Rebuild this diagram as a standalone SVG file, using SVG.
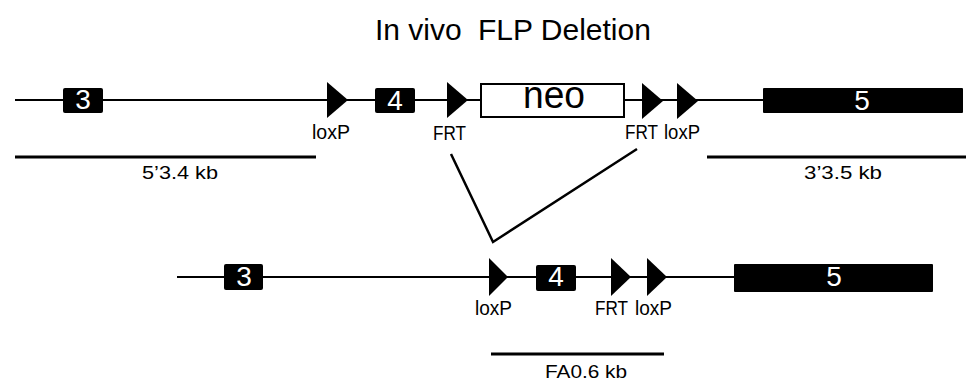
<svg xmlns="http://www.w3.org/2000/svg" width="966" height="385" viewBox="0 0 966 385">
<style>
text{font-family:"Liberation Sans",Arial,sans-serif;fill:#000}
.bb{stroke:#000;stroke-width:2;fill:none}
.bar{stroke:#000;stroke-width:3;fill:none}
.ex{fill:#000}
.exn{fill:#fff;font-size:28px;text-anchor:middle}
.tri{fill:#000}
.lbl{font-size:19.5px}
.sc{font-size:19px}
</style>
<rect width="966" height="385" fill="#fff"/>
<text x="375" y="40" font-size="30">In vivo</text>
<text x="478" y="40" font-size="30">FLP Deletion</text>

<g id="backbone-top"><line class="bb" x1="15" y1="100" x2="763" y2="100"/></g>
<g id="backbone-bottom"><line class="bb" x1="177" y1="277" x2="734" y2="277"/></g>

<g id="top-exon3"><rect class="ex" x="63" y="88" width="40" height="25" rx="2"/><text class="exn" x="83" y="109">3</text></g>
<g id="top-loxP1"><polygon class="tri" points="327,82 348,100 327,118"/><text class="lbl" x="312" y="139" textLength="38" lengthAdjust="spacingAndGlyphs">loxP</text></g>
<g id="top-exon4"><rect class="ex" x="375" y="88" width="40" height="25" rx="2"/><text class="exn" x="395" y="110">4</text></g>
<g id="top-FRT1"><polygon class="tri" points="447,82 468,100 447,118"/><text class="lbl" x="433" y="140" textLength="33" lengthAdjust="spacingAndGlyphs">FRT</text></g>
<g id="top-neo"><rect x="481" y="84" width="143" height="33" fill="#fff" stroke="#000" stroke-width="2"/><text x="554" y="108" font-size="38" text-anchor="middle" textLength="62" lengthAdjust="spacingAndGlyphs">neo</text></g>
<g id="top-FRT2"><polygon class="tri" points="642,83 663,101 642,119"/><text class="lbl" x="625" y="139" textLength="33" lengthAdjust="spacingAndGlyphs">FRT</text></g>
<g id="top-loxP2"><polygon class="tri" points="677,83 698,101 677,119"/><text class="lbl" x="664" y="139" textLength="36" lengthAdjust="spacingAndGlyphs">loxP</text></g>
<g id="top-exon5"><rect class="ex" x="763" y="88" width="200" height="25" rx="1"/><text class="exn" x="862" y="110">5</text></g>

<g id="scale-5"><line class="bar" x1="15" y1="157" x2="316" y2="157"/><text class="sc" x="142" y="179" textLength="76" lengthAdjust="spacingAndGlyphs">5’3.4 kb</text></g>
<g id="scale-3"><line class="bar" x1="707" y1="157" x2="966" y2="157"/><text class="sc" x="804" y="179" textLength="78" lengthAdjust="spacingAndGlyphs">3’3.5 kb</text></g>

<g id="connectors"><polyline points="451,154 493,242 637,149" fill="none" stroke="#000" stroke-width="2.5"/></g>

<g id="bot-exon3"><rect class="ex" x="224" y="264" width="39" height="26" rx="2"/><text class="exn" x="244" y="286">3</text></g>
<g id="bot-loxP"><polygon class="tri" points="489,258 508,277 489,296"/><text class="lbl" x="475" y="315" textLength="37" lengthAdjust="spacingAndGlyphs">loxP</text></g>
<g id="bot-exon4"><rect class="ex" x="536" y="265" width="40" height="26" rx="2"/><text class="exn" x="556" y="286">4</text></g>
<g id="bot-FRT"><polygon class="tri" points="611,258 631,277 611,296"/><text class="lbl" x="595" y="315" textLength="33" lengthAdjust="spacingAndGlyphs">FRT</text></g>
<g id="bot-loxP2"><polygon class="tri" points="647,258 667,277 647,296"/><text class="lbl" x="635" y="315" textLength="37" lengthAdjust="spacingAndGlyphs">loxP</text></g>
<g id="bot-exon5"><rect class="ex" x="734" y="264" width="199" height="28" rx="1"/><text class="exn" x="834" y="286">5</text></g>

<g id="scale-FA"><line class="bar" x1="491" y1="354" x2="664" y2="354"/><text class="sc" x="545" y="378" textLength="82" lengthAdjust="spacingAndGlyphs">FA0.6 kb</text></g>
</svg>
